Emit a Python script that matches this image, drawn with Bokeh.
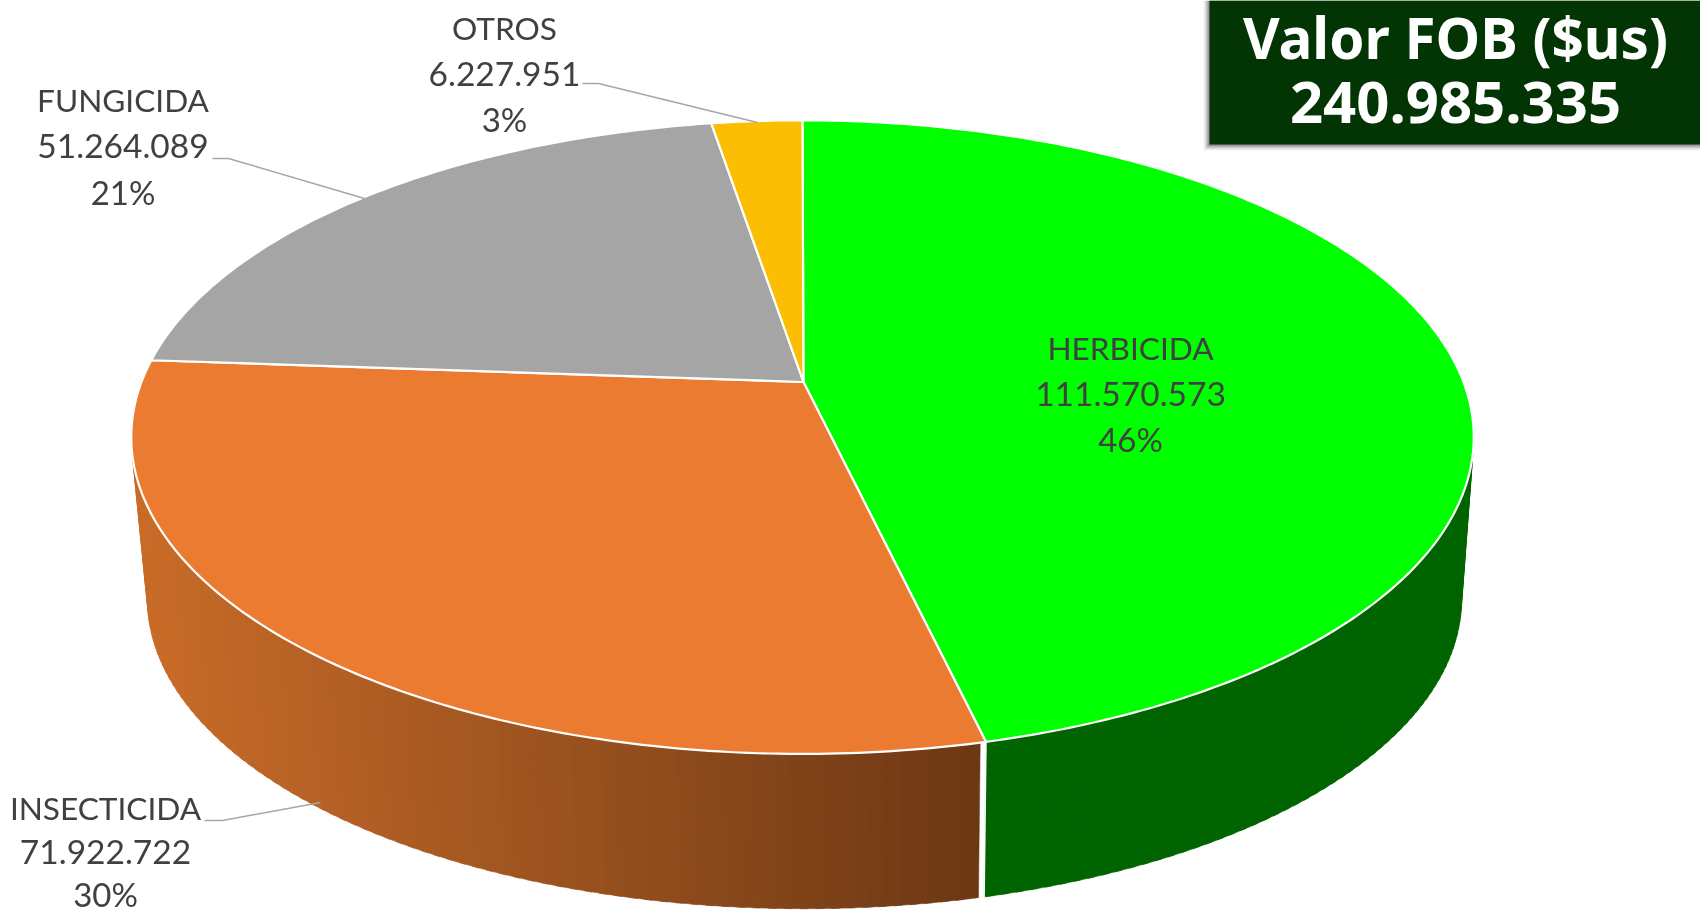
import math
from bokeh.plotting import figure
from bokeh.models import Range1d
from bokeh.core.properties import value
from bokeh.embed import file_html
from bokeh.resources import INLINE

# ---- data ----
categories = ["HERBICIDA", "INSECTICIDA", "FUNGICIDA", "OTROS"]
values = [111570573, 71922722, 51264089, 6227951]
percents = ["46%", "30%", "21%", "3%"]
total_label = "240.985.335"
title_label = "Valor FOB ($us)"

# ---- styles ----
top_colors = ["#00FF00", "#EB7B31", "#A5A5A5", "#FCBE03"]
label_x = [1130, 105, 122.5, 504]
label_y = [[347, 393, 438], [807, 851, 893], [99, 145, 191], [27, 73, 118]]
leaders = [None,
           ([204, 222, 320], [820, 820, 802]),
           ([212, 228, 364], [158, 158, 198]),
           ([582, 598, 757], [83, 83, 122])]
line_sizes = ["31.6px", "33.5px", "33px"]
W, H = 1700, 913
APEX = (803.0, 381.5)
KP = 0.174
TOP = dict(cx=802.0, y0=381.5, A=307.2, B=661.0)
BOT = dict(cx=804.0, y0=545.0, A=300.0, B=647.0)


def project(theta, plane):
    wx, wy = math.sin(theta), math.cos(theta)
    d = 1 + KP * wy
    return plane["cx"] + plane["B"] * wx / d, plane["y0"] - plane["A"] * wy / d


def fmt(v):
    return f"{v:,}".replace(",", ".")


def mix(c1, c2, t):
    t = max(0, min(1, t))
    return "#%02x%02x%02x" % tuple(round(a + (b - a) * t) for a, b in zip(c1, c2))


total = sum(values)
bounds = [0.0]
for v in values:
    bounds.append(bounds[-1] + v / total * 2 * math.pi)

p = figure(width=W, height=H, x_range=Range1d(0, W), y_range=Range1d(H, 0),
           output_backend="svg", toolbar_location=None, min_border=0,
           outline_line_color=None, background_fill_color="white", border_fill_color="white")
p.axis.visible = False
p.grid.visible = False
p.styles = {"position": "fixed", "left": "0px", "top": "0px"}

# side walls: herbicide (solid) and insecticide (horizontal gradient)
green_wall = "#006400"
wall_left, wall_right = (201, 108, 41), (107, 55, 20)
xs, ys, cols = [], [], []
N = 160
a0, a1 = math.pi / 2, bounds[2]
for i in range(N):
    t1 = a0 + (a1 - a0) * i / N
    t2 = a0 + (a1 - a0) * (i + 1.5) / N
    t2_clip = min(t2, bounds[1]) if t1 < bounds[1] else t2
    pts = [project(t1, TOP), project(t2_clip, TOP), project(t2_clip, BOT), project(t1, BOT)]
    xs.append([q[0] for q in pts])
    ys.append([q[1] for q in pts])
    if t1 < bounds[1]:
        cols.append(green_wall)
    else:
        xm = sum(q[0] for q in pts) / 4
        cols.append(mix(wall_left, wall_right, (xm - 140) / (985 - 140)))
p.patches(xs, ys, fill_color=cols, line_color=cols, line_width=0.5)

# wall divider
tb, bb = project(bounds[1], TOP), project(bounds[1], BOT)
p.line([tb[0], bb[0]], [tb[1], bb[1]], line_color="white", line_width=1.6)

# top faces
for i in range(len(values)):
    n = max(4, int((bounds[i + 1] - bounds[i]) * 80))
    pts = [project(bounds[i] + (bounds[i + 1] - bounds[i]) * j / n, TOP) for j in range(n + 1)]
    fx = [APEX[0]] + [q[0] for q in pts]
    fy = [APEX[1]] + [q[1] for q in pts]
    p.patch(fx, fy, fill_color=top_colors[i], line_color="white", line_width=2.2, line_join="round")

# leader lines
for ld in leaders:
    if ld:
        p.line(ld[0], ld[1], line_color="#A6A6A6", line_width=1.5)

# labels
for i, c in enumerate(categories):
    for txt, y, fs in zip([c, fmt(values[i]), percents[i]], label_y[i], line_sizes):
        p.text([label_x[i]], [y], text=[txt], text_font=value("Lato"), text_font_size=fs,
               text_color="#404040", text_align="center", text_baseline="middle")

# total box with soft shadow
for k, al in zip(range(6, 0, -1), [0.04, 0.06, 0.08, 0.10, 0.12, 0.14]):
    p.quad(left=[1209 - k], right=[W], top=[0], bottom=[144 + k], fill_color="#000000",
           fill_alpha=al, line_color=None)
p.quad(left=[1209], right=[W], top=[0], bottom=[144], fill_color="#033403", line_color=None)
p.text([1455], [37], text=[title_label], text_font=value("Noto Sans"), text_font_style="bold",
       text_font_size="56.5px", text_color="white", text_align="center", text_baseline="middle")
p.text([1455], [102], text=[total_label], text_font=value("Noto Sans"), text_font_style="bold",
       text_font_size="58px", text_color="white", text_align="center", text_baseline="middle")

open("out.html", "w").write(file_html(p, INLINE))
